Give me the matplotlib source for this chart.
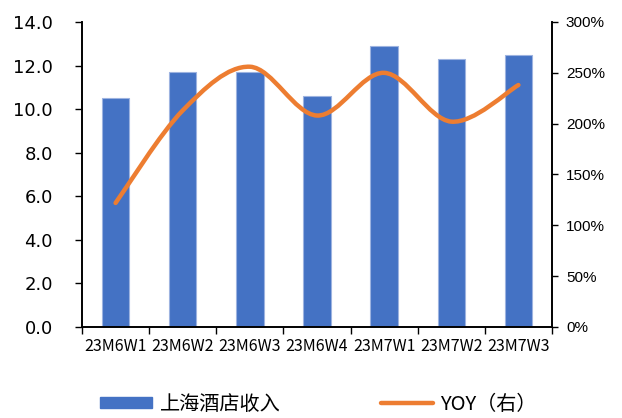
import matplotlib
matplotlib.use("Agg")
import matplotlib.pyplot as plt
import numpy as np
from matplotlib.path import Path
from matplotlib.patches import PathPatch, Patch
from matplotlib.lines import Line2D
from matplotlib.ticker import FixedLocator, FuncFormatter

plt.rcParams['font.family'] = ['Noto Sans CJK SC', 'DejaVu Sans']

weeks = ['23M6W1', '23M6W2', '23M6W3', '23M6W4', '23M7W1', '23M7W2', '23M7W3']
revenue = [10.5, 11.7, 11.7, 10.6, 12.9, 12.3, 12.5]      # 上海酒店收入
yoy = [122, 213, 256, 208, 250, 202, 238]                  # YOY, %

BLUE = '#4472C4'
ORANGE = '#ED7D31'


def smooth_path(xs, ys):
    # cubic bezier through every point, tangents from neighbours (1/6 tension)
    pts = np.column_stack([xs, ys]).astype(float)
    ext = np.vstack([pts[0], pts, pts[-1]])
    verts = [tuple(pts[0])]
    codes = [Path.MOVETO]
    for i in range(len(pts) - 1):
        p0, p1, p2, p3 = ext[i], ext[i + 1], ext[i + 2], ext[i + 3]
        c1 = p1 + (p2 - p0) / 6.0
        c2 = p2 - (p3 - p1) / 6.0
        verts += [tuple(c1), tuple(c2), tuple(p2)]
        codes += [Path.CURVE4] * 3
    return Path(verts, codes)


fig = plt.figure(figsize=(6.22, 4.18), dpi=100)
ax = fig.add_axes([82 / 622, 1 - 327 / 418, 470 / 622, 305 / 418])
x = np.arange(len(weeks))

ax.bar(x, revenue, width=0.41, color=BLUE, edgecolor='#9DB3E0', linewidth=0.8, zorder=2)
ax.set_xlim(-0.5, len(weeks) - 0.5)
ax.set_ylim(0, 14)
ax.set_yticks(np.arange(0, 14.1, 2))
ax.yaxis.set_major_formatter(FuncFormatter(lambda v, p: f'{v:.1f}'))
ax.tick_params(axis='y', direction='out', length=5, width=1, labelsize=13, pad=16,
               colors='black')
for lbl in ax.get_yticklabels():
    lbl.set_fontfamily('DejaVu Sans')

ax.set_xticks(x)
ax.set_xticklabels(weeks, fontsize=11.5)
ax.xaxis.set_minor_locator(FixedLocator(np.arange(-0.5, len(weeks), 1)))
ax.tick_params(axis='x', which='major', length=0, pad=8)
ax.tick_params(axis='x', which='minor', length=5, width=1, direction='out')

ax2 = ax.twinx()
ax2.set_ylim(0, 300)
ax2.set_yticks(np.arange(0, 301, 50))
ax2.yaxis.set_major_formatter(FuncFormatter(lambda v, p: f'{v:.0f}%'))
ax2.tick_params(axis='y', direction='out', length=4, width=1, labelsize=11, pad=6)
for lbl in ax2.get_yticklabels():
    lbl.set_fontfamily('Liberation Sans')
ax2.add_patch(PathPatch(smooth_path(x, yoy), facecolor='none', edgecolor=ORANGE,
                        linewidth=3.2, capstyle='round', joinstyle='round', zorder=3))

for a in (ax, ax2):
    a.spines['top'].set_visible(False)
    for s in ('left', 'right', 'bottom'):
        a.spines[s].set_linewidth(1.2)
        a.spines[s].set_color('black')

handles = [Patch(facecolor=BLUE, edgecolor=BLUE),
           Line2D([0], [0], color=ORANGE, linewidth=3.2, solid_capstyle='round')]
fig.legend(handles, ['上海酒店收入', 'YOY（右）'], loc='center', ncol=2,
           bbox_to_anchor=(0.512, 1 - 404 / 418), frameon=False, fontsize=14.5,
           handlelength=2.6, handleheight=0.45, handletextpad=0.35, columnspacing=5.0)

fig.savefig('out.png', dpi=100)
